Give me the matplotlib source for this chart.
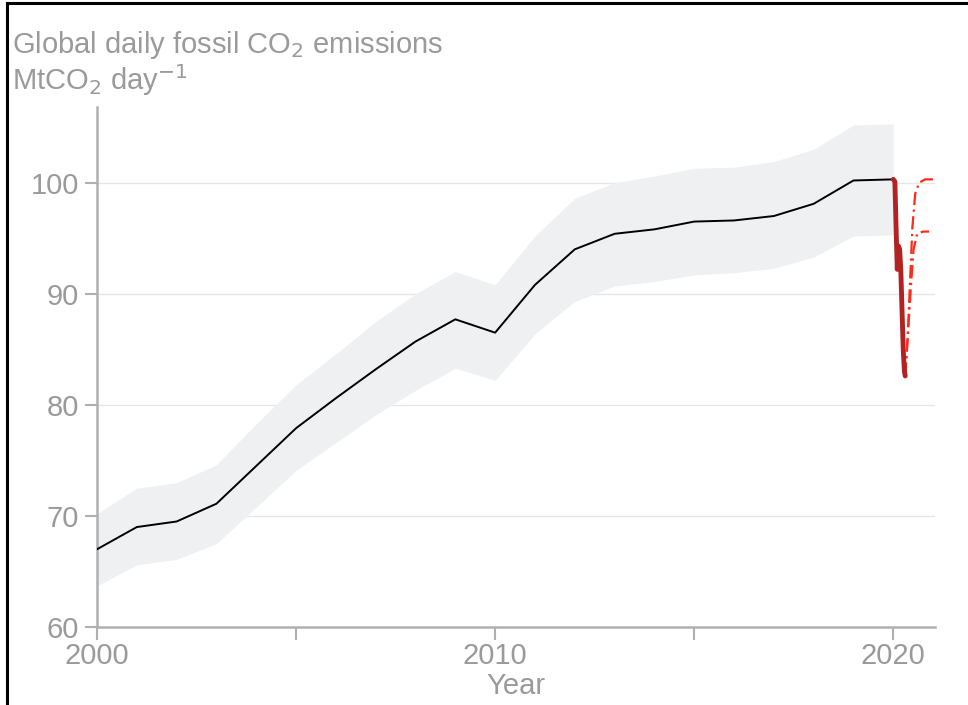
import numpy as np
import matplotlib.pyplot as plt
from matplotlib.lines import Line2D

# Annual mean daily emissions (MtCO2/day) with uncertainty band
years = np.arange(2000, 2021)
mean_emis = [67.0, 69.0, 69.5, 71.1, 74.5, 77.9, 80.6, 83.2, 85.7, 87.7, 86.5,
             90.8, 94.0, 95.4, 95.8, 96.5, 96.6, 97.0, 98.1, 100.2, 100.3]
band_hi = [70.2, 72.5, 73.0, 74.6, 78.3, 81.8, 84.6, 87.5, 90.0, 92.0, 90.8,
           95.2, 98.6, 100.0, 100.6, 101.3, 101.4, 101.9, 103.0, 105.2, 105.3]
band_lo = [63.7, 65.6, 66.1, 67.5, 70.8, 74.1, 76.6, 79.1, 81.3, 83.3, 82.2,
           86.4, 89.3, 90.7, 91.1, 91.7, 91.9, 92.3, 93.3, 95.2, 95.3]

# 2020 daily estimate during confinement
t2020 = [2020.00, 2020.04, 2020.07, 2020.10, 2020.13, 2020.16, 2020.19,
         2020.22, 2020.25, 2020.28, 2020.30]
daily2020 = [100.3, 100.1, 96.0, 92.2, 94.3, 94.0, 92.0, 88.5, 85.0, 83.0, 82.6]

# Recovery scenarios for the rest of the year
t_scen_a = [2020.30, 2020.36, 2020.42, 2020.48, 2020.55, 2020.65, 2020.80, 2021.05]
scen_a = [82.6, 86.0, 91.0, 96.0, 99.0, 100.0, 100.3, 100.3]
t_scen_b = [2020.30, 2020.37, 2020.44, 2020.51, 2020.60, 2020.75, 2020.90]
scen_b = [82.6, 86.5, 90.5, 94.0, 95.4, 95.6, 95.6]

grey = '#9a9a9a'
plt.rcParams['font.family'] = ['Liberation Sans', 'DejaVu Sans']

fig = plt.figure(figsize=(9.68, 7.05), dpi=100)
ax = fig.add_axes([0.1002, 0.1106, 0.8658, 0.7374])

ax.fill_between(years, band_lo, band_hi, color='#eff0f2', lw=0, zorder=1)
ax.plot(years, mean_emis, color='black', lw=1.4, zorder=3)
ax.plot(t_scen_a, scen_a, color='#ff2a1a', lw=1.6, ls=(0, (6, 2, 1, 2)), zorder=4)
ax.plot(t_scen_b, scen_b, color='#ff2a1a', lw=1.6, ls=(0, (6, 2, 1, 2)), zorder=4)
ax.plot(t2020, daily2020, color='#b22222', lw=3.5, solid_capstyle='round', zorder=5)

ax.set_xlim(2000, 2021.05)
ax.set_ylim(60, 106.8)
ax.set_yticks([60, 70, 80, 90, 100])
ax.set_xticks([2000, 2005, 2010, 2015, 2020])
ax.set_xticklabels(['2000', '', '2010', '', '2020'])
for y in [70, 80, 90, 100]:
    ax.axhline(y, color='#e6e6e6', lw=1.0, zorder=0)

for side in ['top', 'right']:
    ax.spines[side].set_visible(False)
for side in ['left', 'bottom']:
    ax.spines[side].set_color('#b0b0b0')
    ax.spines[side].set_linewidth(1.8)
ax.tick_params(colors='#b0b0b0', labelcolor=grey, labelsize=21, width=1.5,
               length=9, direction='out')
ax.tick_params(axis='y', pad=4)
ax.tick_params(axis='x', pad=2)
ax.set_xlabel('Year', color=grey, fontsize=21, labelpad=1)

fig.text(0.012, 0.925, 'Global daily fossil CO$_2$ emissions', color=grey,
         fontsize=21, ha='left', va='baseline')
fig.text(0.012, 0.873, 'MtCO$_2$ day$^{-1}$', color=grey,
         fontsize=21, ha='left', va='baseline')

# frame edges
fig.add_artist(Line2D([0.0075, 0.0075], [0, 0.996], color='black', lw=2.2))
fig.add_artist(Line2D([0.0075, 1.0], [0.996, 0.996], color='black', lw=2.2))

fig.savefig('out.png', dpi=100)
